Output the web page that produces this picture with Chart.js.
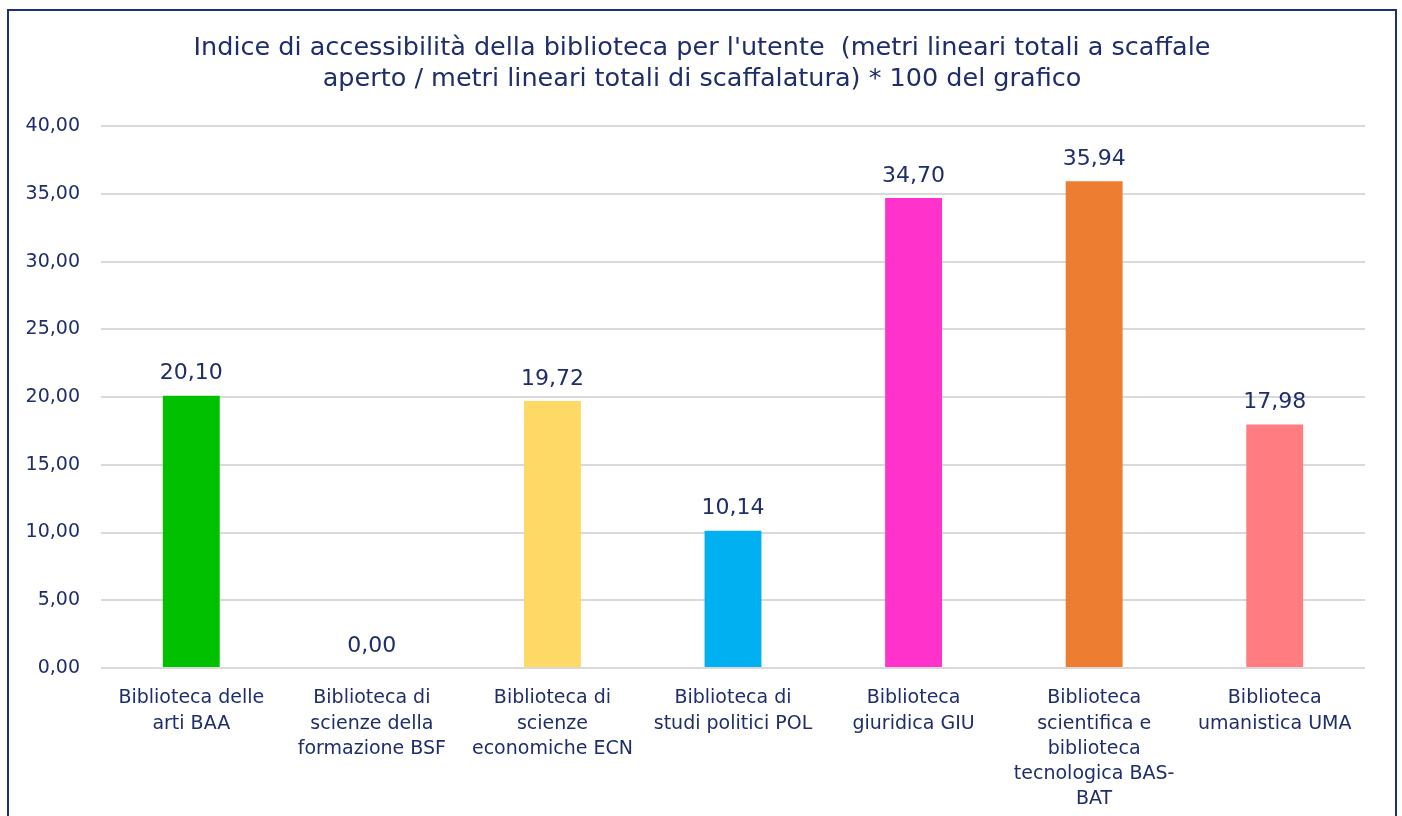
<!DOCTYPE html>
<html lang="it">
<head>
    <meta charset="UTF-8">
    <title>Indice di accessibilità</title>
    <script src="https://cdn.jsdelivr.net/npm/chart.js"></script>
    <style>
        html, body {
            margin: 0;
            padding: 0;
            background: #ffffff;
            overflow: hidden;
        }
        .frame {
            position: absolute;
            left: 7px;
            top: 9px;
            width: 1386px;
            height: 830px;
            border: 2px solid #1f3070;
            background: #fff;
        }
        .chart-box {
            position: relative;
            width: 1386px;
            height: 806px;
        }
    </style>
</head>
<body>
    <div class="frame">
        <div class="chart-box">
            <canvas id="libChart"></canvas>
        </div>
    </div>

    <script>
        const libraries = [
            ["Biblioteca delle", "arti BAA"],
            ["Biblioteca di", "scienze della", "formazione BSF"],
            ["Biblioteca di", "scienze", "economiche ECN"],
            ["Biblioteca di", "studi politici POL"],
            ["Biblioteca", "giuridica GIU"],
            ["Biblioteca", "scientifica e", "biblioteca", "tecnologica BAS-", "BAT"],
            ["Biblioteca", "umanistica UMA"]
        ];
        const accessIndex = [20.10, 0.00, 19.72, 10.14, 34.70, 35.94, 17.98];
        const barColors = ["#00c000", "#a5a5a5", "#ffd966", "#00b0f0", "#ff33cc", "#ed7d31", "#ff7c80"];

        const navy = "#1f2d6b";
        const fontFamily = "'DejaVu Sans', Verdana, sans-serif";

        const fmt = (v) => Number(v).toFixed(2).replace(".", ",");

        // draws the value above each bar
        const valueLabels = {
            id: "valueLabels",
            afterDatasetsDraw(chart) {
                const ctx = chart.ctx;
                const meta = chart.getDatasetMeta(0);
                ctx.save();
                ctx.fillStyle = navy;
                ctx.font = "22px " + fontFamily;
                ctx.textAlign = "center";
                ctx.textBaseline = "bottom";
                meta.data.forEach((bar, i) => {
                    ctx.fillText(fmt(accessIndex[i]), bar.x, bar.y - 11);
                });
                ctx.restore();
            }
        };

        new Chart(document.getElementById("libChart"), {
            type: "bar",
            data: {
                labels: libraries,
                datasets: [{
                    data: accessIndex,
                    backgroundColor: barColors,
                    barPercentage: 0.315,
                    categoryPercentage: 1
                }]
            },
            options: {
                responsive: true,
                maintainAspectRatio: false,
                animation: false,
                layout: {
                    padding: 0
                },
                plugins: {
                    legend: { display: false },
                    tooltip: { enabled: false },
                    title: {
                        display: true,
                        text: [
                            "Indice di accessibilità della biblioteca per l'utente  (metri lineari totali a scaffale",
                            "aperto / metri lineari totali di scaffalatura) * 100 del grafico"
                        ],
                        color: navy,
                        font: { family: fontFamily, size: 25.5, weight: "normal", lineHeight: 1.22 },
                        padding: { top: 22, bottom: 31 }
                    }
                },
                scales: {
                    x: {
                        grid: { display: false },
                        border: { display: false },
                        ticks: {
                            color: navy,
                            font: { family: fontFamily, size: 19, lineHeight: 1.32 },
                            maxRotation: 0,
                            autoSkip: false,
                            padding: 10
                        },
                        afterFit(scale) { scale.height = 149; }
                    },
                    y: {
                        min: 0,
                        max: 40,
                        grid: { color: "#d9d9d9", lineWidth: 2, drawTicks: false },
                        border: { display: false },
                        ticks: {
                            stepSize: 5,
                            color: navy,
                            font: { family: fontFamily, size: 19 },
                            padding: 21,
                            callback: (v) => fmt(v)
                        },
                        afterFit(scale) { scale.width = 92; }
                    },
                    // empty right margin so the title stays centred on the whole frame
                    yRight: {
                        position: "right",
                        grid: { display: false },
                        border: { display: false },
                        ticks: { display: false },
                        afterFit(scale) { scale.width = 30; }
                    }
                }
            },
            plugins: [valueLabels]
        });
    </script>
</body>
</html>
